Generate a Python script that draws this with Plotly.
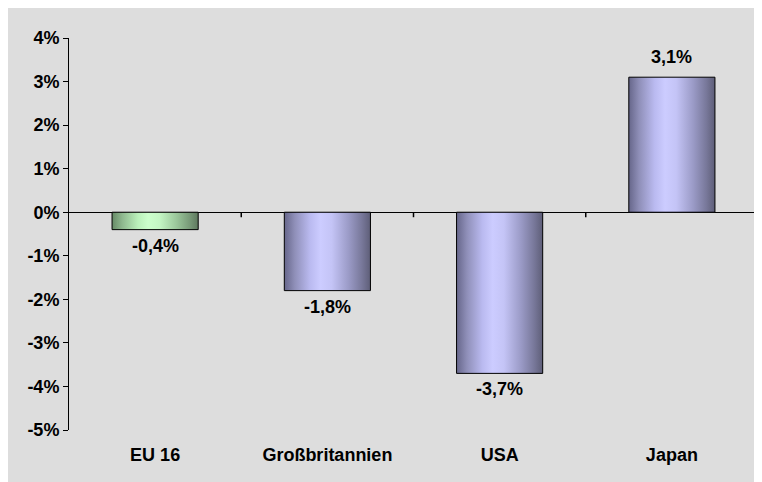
import plotly.graph_objects as go

categories = ["EU 16", "Großbritannien", "USA", "Japan"]
values = [-0.4, -1.8, -3.7, 3.1]
bar_styles = ["green", "blue", "blue", "blue"]
y_ticks = [-5, -4, -3, -2, -1, 0, 1, 2, 3, 4]
y_ticktext = [f"{t}%" for t in y_ticks]

FONT = "Arial, 'Liberation Sans', sans-serif"
GRAY = "#dddddd"

scales = {
    "blue": [[0, "#66668a"], [0.12, "#8f8fb8"], [0.3, "#babaf0"], [0.42, "#ccccff"],
             [0.55, "#c4c4f6"], [0.75, "#9a9ac6"], [0.9, "#78789a"], [1, "#5e5e78"]],
    "green": [[0, "#668a66"], [0.12, "#8fb88f"], [0.3, "#baf0ba"], [0.42, "#ccffcc"],
              [0.55, "#c4f6c4"], [0.75, "#9ac69a"], [0.9, "#789a78"], [1, "#5e785e"]],
}

W, H = 762, 482
ML, MR, MT, MB = 61, 12, 30, 60
ph = H - MT - MB
ymin, ymax = -5, 4
px_per_unit = ph / (ymax - ymin)

fig = go.Figure()
bw = 0.5
for i, (c, v, s) in enumerate(zip(categories, values, bar_styles)):
    xs = [i - bw / 2, i + bw / 2, i + bw / 2, i - bw / 2, i - bw / 2]
    ys = [0, 0, v, v, 0]
    fig.add_trace(go.Scatter(
        x=xs, y=ys, mode="lines", fill="toself",
        fillgradient=dict(type="horizontal", colorscale=scales[s]),
        line=dict(color="black", width=1), hoverinfo="skip", showlegend=False,
    ))

# category boundary ticks on the zero line
tick_len = 5 / px_per_unit
for b in [k + 0.5 for k in range(len(categories))]:
    fig.add_trace(go.Scatter(x=[b, b], y=[0, -tick_len], mode="lines",
                             line=dict(color="black", width=1.5),
                             hoverinfo="skip", showlegend=False, cliponaxis=False))

for i, v in enumerate(values):
    fig.add_annotation(
        x=i, y=v, text=f"<b>{v:.1f}%</b>".replace(".", ","),
        showarrow=False, yshift=(20 if v > 0 else -16),
        font=dict(family=FONT, size=18, color="black"),
    )

fig.update_layout(
    width=W, height=H,
    margin=dict(l=ML, r=MR, t=MT, b=MB),
    paper_bgcolor=GRAY, plot_bgcolor=GRAY,
    showlegend=False,
    font=dict(family=FONT, size=18, color="black"),
    xaxis=dict(
        range=[-0.5, len(categories) - 0.5],
        tickvals=list(range(len(categories))),
        ticktext=[f"<b>{c}</b>" for c in categories],
        ticks="outside", ticklen=8, tickcolor="rgba(0,0,0,0)",
        showgrid=False, zeroline=False, showline=False,
        tickfont=dict(family=FONT, size=18, color="black"),
    ),
    yaxis=dict(
        range=[ymin, ymax],
        tickvals=y_ticks, ticktext=[f"<b>{t}</b>" for t in y_ticktext],
        ticks="outside", ticklen=5, tickcolor="black",
        showline=True, linecolor="black", linewidth=1,
        showgrid=False, zeroline=True, zerolinecolor="black", zerolinewidth=1,
        tickfont=dict(family=FONT, size=18, color="black"),
    ),
)

fig.write_html("out.html")
